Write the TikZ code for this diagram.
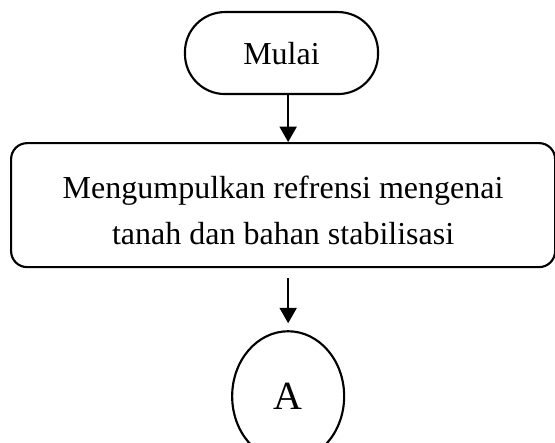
\documentclass[tikz,border=0pt]{standalone}
\usepackage{fontspec}
\setmainfont{Liberation Serif}
\usetikzlibrary{arrows.meta,positioning,shapes.geometric}
\tikzset{
 term/.style={draw,line width=0.8pt,rounded corners=15pt,minimum width=72.4pt,minimum height=30.75pt,inner sep=0pt,font=\fontsize{12}{14}\selectfont},
 proc/.style={draw,line width=0.8pt,rounded corners=6pt,minimum width=204pt,minimum height=46.5pt,inner sep=0pt,align=center,font=\fontsize{12}{17.4}\selectfont},
 conn/.style={draw,ellipse,line width=0.8pt,minimum width=42pt,minimum height=48.75pt,inner sep=0pt,font=\fontsize{15}{18}\selectfont},
 arr/.style={-{Triangle[length=5.8pt,width=6.4pt]},line width=0.75pt}
}
\begin{document}
\begin{tikzpicture}
\useasboundingbox (0,0) rectangle (208.125pt,-166.125pt);
\node[term] (mulai) at (105.56pt,-19.9pt) {Mulai};
\node[proc,below=17.6pt of mulai,xshift=0.6pt] (ref) {\rule{0pt}{12.3pt}Mengumpulkan refrensi mengenai\\tanah dan bahan stabilisasi};
\node[conn,below=23.25pt of ref,xshift=1.9pt] (a) {A};
\draw[arr] (mulai.south -| a.north) -- (ref.north -| a.north);
\draw[arr,shorten <=3.75pt,shorten >=2.6pt] (ref.south -| a.north) -- (a.north);
\end{tikzpicture}
\end{document}
